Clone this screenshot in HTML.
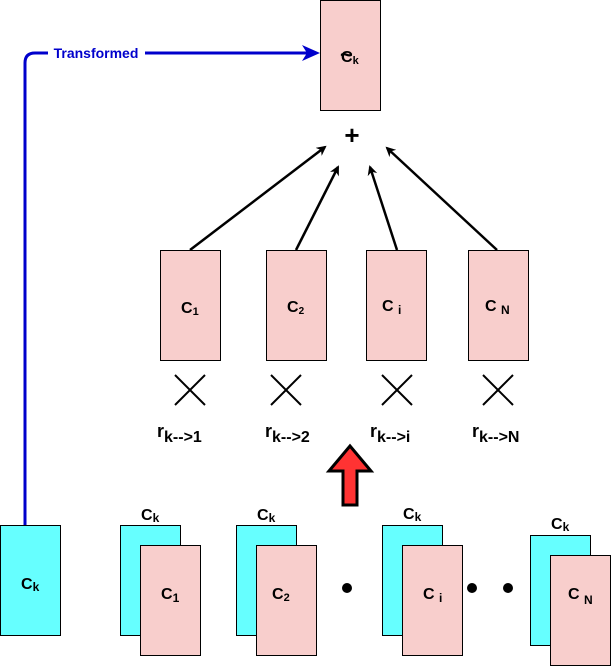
<!DOCTYPE html>
<html><head><style>body{margin:0;background:#fff}svg{display:block}text{font-family:"Liberation Sans",sans-serif;font-weight:bold}</style></head><body>
<svg width="611" height="666" viewBox="0 0 611 666" xmlns="http://www.w3.org/2000/svg">
<defs>
<marker id="bk" markerWidth="10" markerHeight="10" refX="8" refY="5" orient="auto" markerUnits="userSpaceOnUse"><path d="M0,0 L10,5 L0,10 L3,5 Z" fill="#000"/></marker>
</defs>
<g stroke="#000" stroke-width="1">
<rect x="320.5" y="0.5" width="60" height="110" fill="#f8cecc"/>
<rect x="160.5" y="250.5" width="60" height="110" fill="#f8cecc"/>
<rect x="266.5" y="250.5" width="60" height="110" fill="#f8cecc"/>
<rect x="366.5" y="250.5" width="60" height="110" fill="#f8cecc"/>
<rect x="468.5" y="250.5" width="60" height="110" fill="#f8cecc"/>
<rect x="0.5" y="525.5" width="60" height="110" fill="#66ffff"/>
<rect x="120.5" y="525.5" width="60" height="110" fill="#66ffff"/>
<rect x="140.5" y="545.5" width="60" height="110" fill="#f8cecc"/>
<rect x="236.5" y="525.5" width="60" height="110" fill="#66ffff"/>
<rect x="256.5" y="545.5" width="60" height="110" fill="#f8cecc"/>
<rect x="382.5" y="525.5" width="60" height="110" fill="#66ffff"/>
<rect x="402.5" y="545.5" width="60" height="110" fill="#f8cecc"/>
<rect x="530.5" y="535.5" width="60" height="110" fill="#66ffff"/>
<rect x="550.5" y="555.5" width="60" height="110" fill="#f8cecc"/>
</g>
<path d="M25,525 V63 Q25,53 35,53 H310" fill="none" stroke="#0000cc" stroke-width="3"/>
<path d="M320,53 L302,45 L307,53 L302,61 Z" fill="#0000cc"/>
<rect x="48" y="44" width="97" height="18" fill="#fff"/>
<text x="96" y="58" font-size="14" fill="#0000cc" text-anchor="middle">Transformed</text>
<g stroke="#000" stroke-width="2.5" marker-end="url(#bk)">
<line x1="190" y1="250" x2="325" y2="147"/>
<line x1="296" y1="250" x2="338" y2="167"/>
<line x1="397" y1="250" x2="370" y2="167"/>
<line x1="497" y1="250" x2="387" y2="148"/>
</g>
<text x="352" y="144" font-size="26" text-anchor="middle">+</text>
<g stroke="#000" stroke-width="2">
<path d="M175,375 L205,405 M205,375 L175,405"/>
<path d="M271,375 L301,405 M301,375 L271,405"/>
<path d="M382,375 L412,405 M412,375 L382,405"/>
<path d="M483,375 L513,405 M513,375 L483,405"/>
</g>
<g font-size="18">
<text x="157" y="437">r<tspan font-size="16" dy="5">k--&gt;1</tspan></text>
<text x="265" y="437">r<tspan font-size="16" dy="5">k--&gt;2</tspan></text>
<text x="370" y="437">r<tspan font-size="16" dy="5">k--&gt;i</tspan></text>
<text x="472" y="437">r<tspan font-size="16" dy="5">k--&gt;N</tspan></text>
</g>
<path d="M350,446 L371,471 L357,471 L357,505 L343,505 L343,471 L329,471 Z" fill="#ff3333" stroke="#000" stroke-width="3"/>
<g font-size="16">
<text x="340" y="62" font-size="22">~</text>
<text x="341" y="62">C<tspan font-size="11" dy="2">k</tspan></text>
<text x="181" y="313">C<tspan font-size="11" dy="2">1</tspan></text>
<text x="287" y="312">C<tspan font-size="10" dy="2">2</tspan></text>
<text x="382" y="311">C <tspan font-size="12" dy="3">i</tspan></text>
<text x="485" y="311">C <tspan font-size="12" dy="3">N</tspan></text>
<text x="21" y="589">C<tspan font-size="12" dy="2">k</tspan></text>
<text x="141" y="520">C<tspan font-size="12" dy="2">k</tspan></text>
<text x="257" y="520">C<tspan font-size="12" dy="2">k</tspan></text>
<text x="403" y="519">C<tspan font-size="12" dy="2">k</tspan></text>
<text x="551" y="529">C<tspan font-size="12" dy="2">k</tspan></text>
<text x="161" y="599">C<tspan font-size="12" dy="3">1</tspan></text>
<text x="272" y="599">C<tspan font-size="11" dy="2">2</tspan></text>
<text x="423" y="599">C <tspan font-size="12" dy="3">i</tspan></text>
<text x="568" y="599">C <tspan font-size="12" dy="5">N</tspan></text>
</g>
<circle cx="347" cy="588" r="5"/>
<circle cx="472" cy="588" r="5"/>
<circle cx="508" cy="588" r="5"/>
</svg>
</body></html>
